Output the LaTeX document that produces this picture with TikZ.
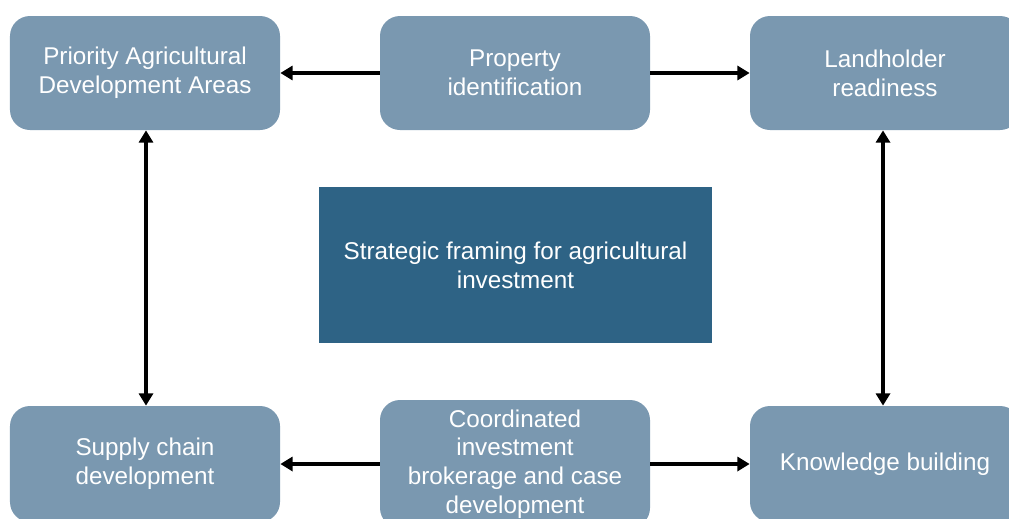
\documentclass[tikz,border=0pt]{standalone}
\usepackage{fontspec}
\setmainfont{Liberation Sans}
\usetikzlibrary{arrows.meta}
\definecolor{boxblue}{HTML}{7A98B0}
\definecolor{coreblue}{HTML}{2E6385}
\tikzset{
  stagebox/.style={fill=boxblue, rounded corners=0.4cm, text=white, align=center,
    minimum width=5.4cm, minimum height=2.28cm, inner sep=0pt,
    font=\fontsize{13.8}{16.4}\selectfont},
  corebox/.style={fill=coreblue, text=white, align=center,
    minimum width=7.86cm, minimum height=3.12cm, inner sep=0pt,
    font=\fontsize{13.8}{16.4}\selectfont},
  link/.style={line width=2pt, -{Triangle[length=7pt,width=8pt]}},
  twolink/.style={line width=2pt, {Triangle[length=7pt,width=8pt]}-{Triangle[length=7pt,width=8pt]}}
}
\begin{document}
\begin{tikzpicture}
            \useasboundingbox (0,0) rectangle (20.18,-10.36);
            \clip (0,0) rectangle (20.18,-10.36);
            % vier Eckboxen und Mitte
            \node[stagebox] (pada) at (2.9,-1.46) {Priority Agricultural\\Development Areas};
            \node[stagebox] (prop) at (10.3,-1.46) {Property\\identification};
            \node[stagebox] (ready) at (17.7,-1.46) {Landholder\\readiness};
            \node[corebox] (frame) at (10.31,-5.3) {Strategic framing for agricultural\\investment};
            \node[stagebox, minimum height=2.32cm] (supply) at (2.9,-9.28) {Supply chain\\development};
            \node[stagebox, minimum height=2.56cm] (broker) at (10.3,-9.28) {Coordinated\\investment\\brokerage and case\\development};
            \node[stagebox, minimum height=2.32cm] (know) at (17.7,-9.28) {Knowledge building};
            
            \draw[link] (prop) -- (pada);
            \draw[link] (prop) -- (ready);
            \draw[link] (broker) -- (supply);
            \draw[link] (broker) -- (know);
            \draw[twolink] (pada.south) ++(0.02,0) coordinate (pa) -- (pa |- supply.north);
            \draw[twolink] (ready.south) ++(-0.04,0) coordinate (ra) -- (ra |- know.north);
        \end{tikzpicture}
\end{document}
